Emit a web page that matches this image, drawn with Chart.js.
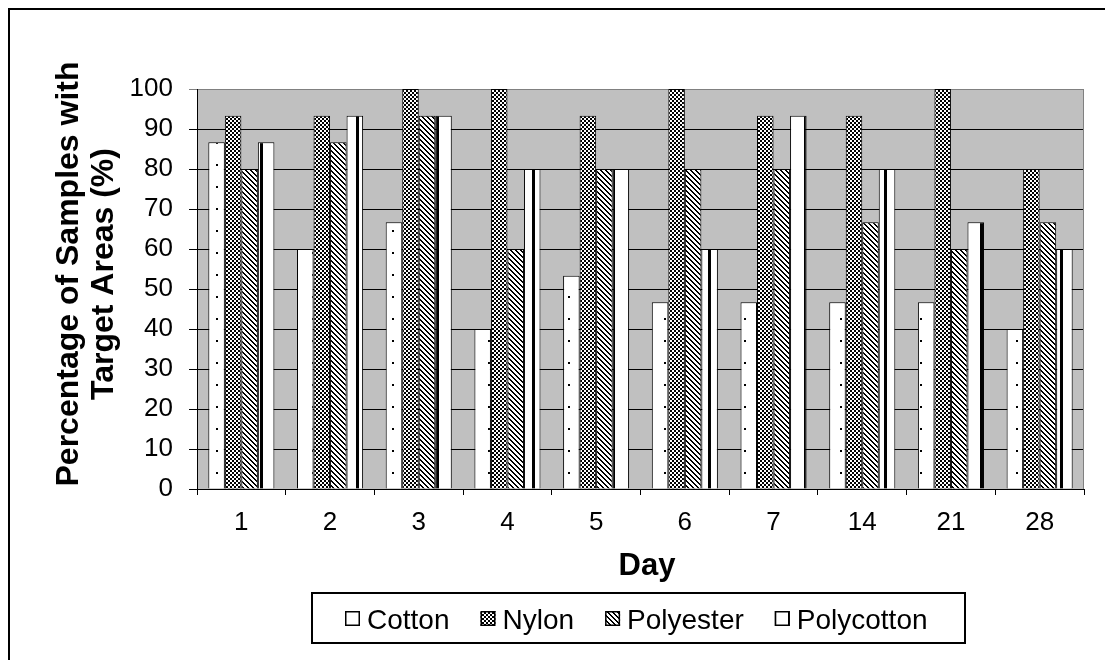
<!DOCTYPE html>
<html>
<head>
<meta charset="utf-8">
<script src="https://cdn.jsdelivr.net/npm/chart.js@4.4.1/dist/chart.umd.min.js"></script>
<style>
  html, body { margin: 0; padding: 0; background: #ffffff; }
  #wrap { width: 1105px; height: 660px; position: relative; }
  canvas { display: block; }
</style>
</head>
<body>
<div id="wrap"><canvas id="c" width="1105" height="660"></canvas></div>
<script>
// ---- data ----
const days = ['1', '2', '3', '4', '5', '6', '7', '14', '21', '28'];
const cotton     = [86.7, 60.0, 66.7, 40.0, 53.3, 46.7, 46.7, 46.7, 46.7, 40.0];
const nylon      = [93.3, 93.3, 100, 100, 93.3, 100, 93.3, 93.3, 100, 80.0];
const polyester  = [80.0, 86.7, 93.3, 60.0, 80.0, 80.0, 80.0, 66.7, 60.0, 66.7];
const polycotton = [86.7, 93.3, 93.3, 80.0, 80.0, 60.0, 93.3, 80.0, 66.7, 60.0];
const seriesNames = ['Cotton', 'Nylon', 'Polyester', 'Polycotton'];
const yTicks = [0, 10, 20, 30, 40, 50, 60, 70, 80, 90, 100];
const yTitleLines = ['Percentage of Samples with', 'Target Areas (%)'];
const xTitle = 'Day';

// ---- patterns ----
function makePattern(w, h, isBlack) {
  const cv = document.createElement('canvas');
  cv.width = w; cv.height = h;
  const cx = cv.getContext('2d');
  const img = cx.createImageData(w, h);
  for (let y = 0; y < h; y++) {
    for (let x = 0; x < w; x++) {
      const i = (y * w + x) * 4;
      const v = isBlack(x, y) ? 0 : 255;
      img.data[i] = v; img.data[i + 1] = v; img.data[i + 2] = v; img.data[i + 3] = 255;
    }
  }
  cx.putImageData(img, 0, 0);
  return document.getElementById('c').getContext('2d').createPattern(cv, 'repeat');
}
const patCotton = makePattern(16, 22, (x, y) => (x >= 8 && x < 10 && y >= 10 && y < 12));
const patNylon = makePattern(4, 4, (x, y) => ((Math.floor(x / 2) + Math.floor(y / 2)) % 2 === 0));
const patPolyester = makePattern(5, 5, (x, y) => (((x - y) % 5 + 5) % 5) < 2);
const patPolycotton = makePattern(16, 1, (x, y) => (x >= 4 && x < 7));
const patterns = [patCotton, patNylon, patPolyester, patPolycotton];
const seriesData = [cotton, nylon, polyester, polycotton];

const FONT = '"Liberation Sans", Arial, sans-serif';

const bgPlugin = {
  id: 'bgPlugin',
  beforeDraw(chart) {
    const { ctx, chartArea: a } = chart;
    ctx.save();
    ctx.fillStyle = '#ffffff';
    ctx.fillRect(0, 0, chart.width, chart.height);
    ctx.fillStyle = '#c0c0c0';
    ctx.fillRect(a.left, a.top, a.right - a.left, a.bottom - a.top);
    ctx.restore();
  },
  beforeDatasetsDraw(chart) {
    const { ctx, chartArea: a } = chart;
    ctx.save();
    ctx.strokeStyle = '#808080';
    ctx.lineWidth = 1;
    ctx.beginPath();
    ctx.moveTo(Math.round(a.right) - 0.5, a.top);
    ctx.lineTo(Math.round(a.right) - 0.5, a.bottom);
    ctx.stroke();
    ctx.restore();
  },
  afterDraw(chart) {
    const { ctx, chartArea: a } = chart;
    ctx.save();
    // outer frame
    ctx.strokeStyle = '#000';
    ctx.lineWidth = 2;
    ctx.strokeRect(9, 9, 1200, 800);

    // y title
    ctx.fillStyle = '#000';
    ctx.font = 'bold 32px ' + FONT;
    ctx.textAlign = 'center';
    ctx.textBaseline = 'alphabetic';
    const yc = 274;
    const xs = [78, 113];
    yTitleLines.forEach((t, i) => {
      ctx.save();
      ctx.translate(xs[i], yc);
      ctx.rotate(-Math.PI / 2);
      ctx.fillText(t, 0, 0);
      ctx.restore();
    });

    // x title
    ctx.font = 'bold 31px ' + FONT;
    ctx.fillText(xTitle, 647, 575);

    // legend
    const lx0 = 312, ly0 = 593, lx1 = 965, ly1 = 643;
    ctx.lineWidth = 2;
    ctx.strokeStyle = '#000';
    ctx.strokeRect(lx0, ly0, lx1 - lx0, ly1 - ly0);
    ctx.font = '28px ' + FONT;
    ctx.textAlign = 'left';
    ctx.textBaseline = 'alphabetic';
    let x = 345;
    const my = 611;
    chart.data.datasets.forEach((ds) => {
      ctx.fillStyle = ds.backgroundColor;
      ctx.fillRect(x, my, 15, 15);
      ctx.lineWidth = 1.5;
      ctx.strokeRect(x + 0.75, my + 0.75, 13.5, 13.5);
      ctx.fillStyle = '#000';
      ctx.fillText(ds.label, x + 22, 629);
      x += 22 + ctx.measureText(ds.label).width + 31;
    });
    ctx.restore();
  }
};

new Chart(document.getElementById('c'), {
  type: 'bar',
  data: {
    labels: days,
    datasets: seriesNames.map((name, i) => ({
      label: name,
      data: seriesData[i],
      backgroundColor: patterns[i],
      borderColor: '#000',
      borderWidth: 1,
      categoryPercentage: 0.745,
      barPercentage: 1.0
    }))
  },
  options: {
    responsive: false,
    animation: false,
    devicePixelRatio: 1,
    layout: { padding: { top: 89, right: 21, left: 0, bottom: 0 } },
    plugins: {
      legend: { display: false },
      tooltip: { enabled: false },
      title: { display: false }
    },
    scales: {
      x: {
        afterFit(s) { s.height = 171; },
        grid: {
          display: true, drawOnChartArea: false, drawTicks: true, tickLength: 6,
          offset: true, color: '#000', lineWidth: 1
        },
        border: { display: true, color: '#000', width: 1 },
        ticks: { color: '#000', font: { family: FONT, size: 26 }, padding: 12, maxRotation: 0, autoSkip: false }
      },
      y: {
        min: 0, max: 100,
        afterFit(s) { s.width = 197; },
        afterBuildTicks(s) { s.ticks = yTicks.map(v => ({ value: v })); },
        grid: {
          color: (c) => (c.tick && c.tick.value === 100 ? '#808080' : '#000'),
          lineWidth: 1, drawTicks: true, tickLength: 8
        },
        border: { display: true, color: '#000', width: 1 },
        ticks: { color: '#000', font: { family: FONT, size: 26 }, padding: 16, stepSize: 10 }
      }
    }
  },
  plugins: [bgPlugin]
});
</script>
</body>
</html>
